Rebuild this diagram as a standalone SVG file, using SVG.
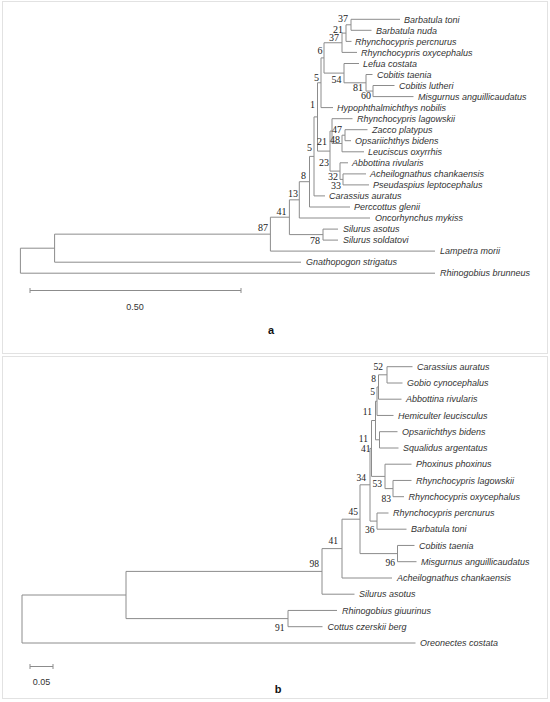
<svg xmlns="http://www.w3.org/2000/svg" width="550" height="702" viewBox="0 0 550 702">
<style>
.bg{fill:#fff}
.panel{fill:none;stroke:#e2e2e2;stroke-width:1}
.br{stroke:#8c8c8c;stroke-width:1;fill:none}
.tx{font-family:"Liberation Sans",Arial,sans-serif;font-style:italic;font-size:9px;fill:#333}
.bs{font-family:"Liberation Serif","Times New Roman",serif;font-size:10px;fill:#222;text-anchor:end}
.bs2{font-family:"Liberation Serif","Times New Roman",serif;font-size:9.5px;fill:#222;text-anchor:end}
.sc{font-family:"Liberation Sans",Arial,sans-serif;font-size:9px;fill:#333;text-anchor:middle}
.pl{font-family:"Liberation Sans",Arial,sans-serif;font-size:11px;font-weight:bold;fill:#111;text-anchor:middle}
</style>
<rect class="bg" x="0" y="0" width="550" height="702"/>
<rect class="panel" x="2.5" y="1.5" width="545" height="352"/>
<rect class="panel" x="2.5" y="356.5" width="545" height="342"/>

<!-- ===== Tree a connectors ===== -->
<g id="connectors-a" class="br">
<path d="M20.4,248.2V273.2 M20.4,248.2H54.6 M20.4,273.2H435"/>
<path d="M54.6,234.15V262.2 M54.6,234.15H270.4 M54.6,262.2H301"/>
<path d="M270.4,217.2V251.1 M270.4,217.2H289.4 M270.4,251.1H435"/>
<path d="M289.4,199.85V234.6 M289.4,199.85H299.3 M289.4,234.6H323"/>
<path d="M323,229.1V240.1 M323,229.1H338 M323,240.1H338"/>
<path d="M299.3,181.7V218 M299.3,181.7H309.5 M299.3,218H370"/>
<path d="M309.5,156.4V207 M309.5,156.4H314 M309.5,207H350"/>
<path d="M314,116.9V195.9 M314,116.9H317.5 M314,195.9H325"/>
<path d="M317.5,82.75V151.1 M317.5,82.75H321 M317.5,151.1H330"/>
<path d="M321,57.9V107.6 M321,57.9H324 M321,107.6H333"/>
<path d="M324,42.75V73.1 M324,42.75H342 M324,73.1H344"/>
<path d="M342,33.1V52.4 M342,33.1H346 M342,52.4H357"/>
<path d="M346,24.8V41.4 M346,24.8H351 M346,41.4H351.5"/>
<path d="M351,19.3V30.3 M351,19.3H400 M351,30.3H371.5"/>
<path d="M344,63.5V82.8 M344,63.5H359 M344,82.8H366"/>
<path d="M366,74.5V91.05 M366,74.5H372.5 M366,91.05H373"/>
<path d="M373,85.5V96.6 M373,85.5H394.5 M373,96.6H413.5"/>
<path d="M330,131.1V171.1 M330,131.1H332 M330,171.1H340"/>
<path d="M332,118.7V143.5 M332,118.7H352.5 M332,143.5H342"/>
<path d="M342,135.2V151.8 M342,135.2H345 M342,151.8H364"/>
<path d="M345,129.7V140.7 M345,129.7H367.5 M345,140.7H351"/>
<path d="M340,162.8V179.4 M340,162.8H348 M340,179.4H343"/>
<path d="M343,173.9V184.9 M343,173.9H366 M343,184.9H369"/>
<path d="M30,290.5H241 M30,288V293 M241,288V293"/>
</g>

<!-- ===== Tree a taxa ===== -->
<g id="a-barbatula-toni"><text class="tx" x="404" y="22.5">Barbatula toni</text></g>
<g id="a-barbatula-nuda"><text class="tx" x="376" y="33.5">Barbatula nuda</text></g>
<g id="a-rhynchocypris-percnurus"><text class="tx" x="355" y="44.6">Rhynchocypris percnurus</text></g>
<g id="a-rhynchocypris-oxycephalus"><text class="tx" x="361" y="55.6">Rhynchocypris oxycephalus</text></g>
<g id="a-lefua-costata"><text class="tx" x="363" y="66.7">Lefua costata</text></g>
<g id="a-cobitis-taenia"><text class="tx" x="377" y="77.7">Cobitis taenia</text></g>
<g id="a-cobitis-lutheri"><text class="tx" x="399" y="88.7">Cobitis lutheri</text></g>
<g id="a-misgurnus"><text class="tx" x="418" y="99.8">Misgurnus anguillicaudatus</text></g>
<g id="a-hypophthalmichthys"><text class="tx" x="337" y="110.8">Hypophthalmichthys nobilis</text></g>
<g id="a-rhynchocypris-lagowskii"><text class="tx" x="357" y="121.9">Rhynchocypris lagowskii</text></g>
<g id="a-zacco"><text class="tx" x="372" y="132.9">Zacco platypus</text></g>
<g id="a-opsariichthys"><text class="tx" x="355" y="143.9">Opsariichthys bidens</text></g>
<g id="a-leuciscus"><text class="tx" x="368" y="155">Leuciscus oxyrrhis</text></g>
<g id="a-abbottina"><text class="tx" x="352" y="166">Abbottina rivularis</text></g>
<g id="a-acheilognathus"><text class="tx" x="370" y="177.1">Acheilognathus chankaensis</text></g>
<g id="a-pseudaspius"><text class="tx" x="373" y="188.1">Pseudaspius leptocephalus</text></g>
<g id="a-carassius"><text class="tx" x="329" y="199.1">Carassius auratus</text></g>
<g id="a-perccottus"><text class="tx" x="354" y="210.2">Perccottus glenii</text></g>
<g id="a-oncorhynchus"><text class="tx" x="375" y="221.2">Oncorhynchus mykiss</text></g>
<g id="a-silurus-asotus"><text class="tx" x="343" y="232.3">Silurus asotus</text></g>
<g id="a-silurus-soldatovi"><text class="tx" x="343" y="243.3">Silurus soldatovi</text></g>
<g id="a-lampetra"><text class="tx" x="440" y="254.3">Lampetra morii</text></g>
<g id="a-gnathopogon"><text class="tx" x="306" y="265.4">Gnathopogon strigatus</text></g>
<g id="a-rhinogobius"><text class="tx" x="440" y="276.4">Rhinogobius brunneus</text></g>

<!-- ===== Tree a bootstrap values ===== -->
<g id="a-bootstrap">
<text class="bs" x="348" y="22">37</text>
<text class="bs" x="343" y="32.5">21</text>
<text class="bs" x="339" y="41">37</text>
<text class="bs" x="322.5" y="54">6</text>
<text class="bs" x="341.5" y="82.5">54</text>
<text class="bs" x="363" y="91">81</text>
<text class="bs" x="371" y="99">60</text>
<text class="bs" x="319" y="81">5</text>
<text class="bs" x="315" y="108">1</text>
<text class="bs" x="342" y="133">47</text>
<text class="bs" x="340" y="142.5">48</text>
<text class="bs" x="327" y="145">21</text>
<text class="bs" x="312" y="151">5</text>
<text class="bs" x="329" y="166">23</text>
<text class="bs" x="338" y="180">32</text>
<text class="bs" x="341" y="189">33</text>
<text class="bs" x="306" y="178.5">8</text>
<text class="bs" x="298" y="196.8">13</text>
<text class="bs" x="286.5" y="215">41</text>
<text class="bs" x="268" y="231">87</text>
<text class="bs" x="320" y="243.5">78</text>
</g>
<g id="a-scale"><text class="sc" x="135" y="310">0.50</text></g>
<g id="a-label"><text class="pl" x="271" y="334">a</text></g>

<!-- ===== Tree b connectors ===== -->
<g id="connectors-b" class="br">
<path d="M22,595V643 M22,595H126 M22,643H415.5"/>
<path d="M126,571.4V618.6 M126,571.4H322 M126,618.6H288"/>
<path d="M288,610.45V626.7 M288,610.45H337 M288,626.7H322.5"/>
<path d="M322,548.6V594.2 M322,548.6H342 M322,594.2H354.5"/>
<path d="M342,519.2V578 M342,519.2H360 M342,578H392"/>
<path d="M360,484.8V553.6 M360,484.8H370 M360,553.6H397.5"/>
<path d="M397.5,545.45V561.7 M397.5,545.45H414.5 M397.5,561.7H416.5"/>
<path d="M370,448.45V521.1 M370,448.45H371.5 M370,521.1H377"/>
<path d="M377,513V529.2 M377,513H388.5 M377,529.2H406.5"/>
<path d="M371.5,420.5V476.4 M371.5,420.5H375.5 M371.5,476.4H385"/>
<path d="M385,464.2V488.6 M385,464.2H411.5 M385,488.6H393"/>
<path d="M393,480.45V496.7 M393,480.45H411.5 M393,496.7H404"/>
<path d="M375.5,401.2V439.8 M375.5,401.2H377 M375.5,439.8H379.5"/>
<path d="M379.5,431.7V448 M379.5,431.7H397.5 M379.5,448H398.5"/>
<path d="M377,387V415.45 M377,387H378.5 M377,415.45H393.5"/>
<path d="M378.5,374.8V399.2 M378.5,374.8H387 M378.5,399.2H401.5"/>
<path d="M387,366.7V383 M387,366.7H412.5 M387,383H402.5"/>
<path d="M30,666.5H53 M30,664V669 M53,664V669"/>
</g>

<!-- ===== Tree b taxa ===== -->
<g id="b-carassius"><text class="tx" x="417" y="369.9">Carassius auratus</text></g>
<g id="b-gobio"><text class="tx" x="407" y="386.2">Gobio cynocephalus</text></g>
<g id="b-abbottina"><text class="tx" x="406" y="402.4">Abbottina rivularis</text></g>
<g id="b-hemiculter"><text class="tx" x="398" y="418.7">Hemiculter leucisculus</text></g>
<g id="b-opsariichthys"><text class="tx" x="402" y="434.9">Opsariichthys bidens</text></g>
<g id="b-squalidus"><text class="tx" x="403" y="451.2">Squalidus argentatus</text></g>
<g id="b-phoxinus"><text class="tx" x="416" y="467.4">Phoxinus phoxinus</text></g>
<g id="b-rhynchocypris-lagowskii"><text class="tx" x="416" y="483.7">Rhynchocypris lagowskii</text></g>
<g id="b-rhynchocypris-oxycephalus"><text class="tx" x="408.5" y="499.9">Rhynchocypris oxycephalus</text></g>
<g id="b-rhynchocypris-percnurus"><text class="tx" x="393" y="516.2">Rhynchocypris percnurus</text></g>
<g id="b-barbatula"><text class="tx" x="411" y="532.4">Barbatula toni</text></g>
<g id="b-cobitis"><text class="tx" x="419" y="548.7">Cobitis taenia</text></g>
<g id="b-misgurnus"><text class="tx" x="421" y="564.9">Misgurnus anguillicaudatus</text></g>
<g id="b-acheilognathus"><text class="tx" x="397" y="581.2">Acheilognathus chankaensis</text></g>
<g id="b-silurus"><text class="tx" x="359" y="597.4">Silurus asotus</text></g>
<g id="b-rhinogobius"><text class="tx" x="342" y="613.7">Rhinogobius giuurinus</text></g>
<g id="b-cottus"><text class="tx" x="327.5" y="629.9">Cottus czerskii berg</text></g>
<g id="b-oreonectes"><text class="tx" x="420" y="646.2">Oreonectes costata</text></g>

<!-- ===== Tree b bootstrap values ===== -->
<g id="b-bootstrap">
<text class="bs2" x="383" y="370">52</text>
<text class="bs2" x="376" y="382.3">8</text>
<text class="bs2" x="375" y="395.3">5</text>
<text class="bs2" x="372" y="415.3">11</text>
<text class="bs2" x="368" y="442.3">11</text>
<text class="bs2" x="370.5" y="451.6">41</text>
<text class="bs2" x="366" y="481.3">34</text>
<text class="bs2" x="382" y="487.3">53</text>
<text class="bs2" x="391" y="501.8">83</text>
<text class="bs2" x="358" y="515.3">45</text>
<text class="bs2" x="374.5" y="533.3">36</text>
<text class="bs2" x="338" y="544.3">41</text>
<text class="bs2" x="395" y="566.3">96</text>
<text class="bs2" x="319" y="567.3">98</text>
<text class="bs2" x="284.5" y="631.3">91</text>
</g>
<g id="b-scale"><text class="sc" x="41.5" y="685">0.05</text></g>
<g id="b-label"><text class="pl" x="278" y="693">b</text></g>
</svg>
